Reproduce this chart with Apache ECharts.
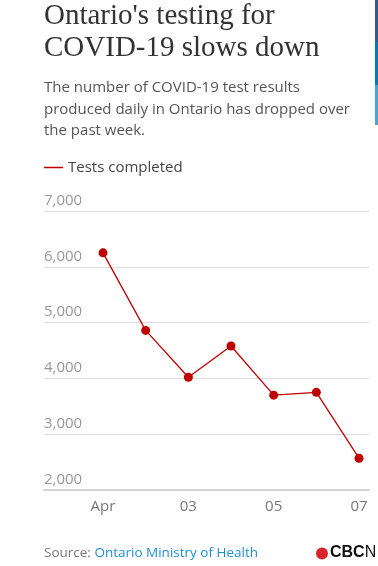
<!DOCTYPE html>
<html>
<head>
<meta charset="utf-8">
<script src="https://cdn.jsdelivr.net/npm/echarts@6/dist/echarts.min.js"></script>
<style>
  html, body { margin: 0; padding: 0; background: #fff; }
  #chart { width: 378px; height: 566px; }
</style>
</head>
<body>
<div id="chart"></div>
<script>
// data
const days = ['Apr', '02', '03', '04', '05', '06', '07'];
const tests = [6250, 4860, 4020, 4580, 3700, 3750, 2570];
const shownDays = [0, 2, 4, 6];
const yTicks = [2000, 3000, 4000, 5000, 6000, 7000];

const red = '#bf0000';
const chart = echarts.init(document.getElementById('chart'));

const option = {
    animation: false,
    title: [
        {
            text: "Ontario's testing for\nCOVID-19 slows down",
            left: 44,
            top: 0,
            padding: 0,
            textStyle: {
                fontFamily: 'Liberation Serif',
                fontWeight: 'normal',
                fontSize: 29,
                lineHeight: 32,
                color: '#333'
            }
        },
        {
            text: 'The number of COVID-19 test results\nproduced daily in Ontario has dropped over\nthe past week.',
            left: 44,
            top: 77,
            padding: 0,
            textStyle: {
                fontFamily: 'Open Sans',
                fontWeight: 'normal',
                fontSize: 15,
                lineHeight: 21.5,
                color: '#555'
            }
        }
    ],
    legend: {
        left: 44,
        top: 160,
        padding: 0,
        icon: 'rect',
        itemWidth: 19,
        itemHeight: 1.5,
        textStyle: { fontFamily: 'Open Sans', fontSize: 15, color: '#444' },
        data: ['Tests completed']
    },
    grid: { left: 44, right: 9, top: 211, bottom: 76 },
    xAxis: {
        type: 'value',
        min: -1.383,
        max: 6.234,
        splitLine: { show: false },
        axisTick: { show: false },
        axisLine: { show: true, lineStyle: { color: '#d4d4d4', width: 2 } },
        axisLabel: {
            customValues: shownDays,
            formatter: v => days[Math.round(v)],
            margin: 9,
            fontFamily: 'Open Sans',
            fontSize: 15,
            color: '#777'
        }
    },
    yAxis: {
        type: 'value',
        min: yTicks[0],
        max: yTicks[yTicks.length - 1],
        interval: 1000,
        axisLine: { show: false },
        axisTick: { show: false },
        splitLine: { lineStyle: { color: '#dcdcdc', width: 1 } },
        axisLabel: {
            inside: true,
            margin: 0,
            verticalAlign: 'bottom',
            padding: [0, 0, 3, 0],
            formatter: v => v.toLocaleString('en-US'),
            fontFamily: 'Open Sans',
            fontSize: 15,
            color: '#999'
        }
    },
    series: [{
        name: 'Tests completed',
        type: 'line',
        data: tests.map((v, i) => [i, v]),
        color: red,
        symbol: 'circle',
        symbolSize: 9,
        lineStyle: { width: 1.3, color: red },
        itemStyle: { color: red }
    }],
    graphic: [
        // blue strip at the right edge
        { type: 'rect', shape: { x: 375, y: 0, width: 3, height: 42 }, style: { fill: '#2e5a97' } },
        { type: 'rect', shape: { x: 375, y: 42, width: 3, height: 43 }, style: { fill: '#0a77bd' } },
        { type: 'rect', shape: { x: 375, y: 85, width: 3, height: 40 }, style: { fill: '#45a7d9' } },
        {
            type: 'text', left: 44, top: 546,
            style: {
                text: '{a|Source: }{b|Ontario Ministry of Health}',
                rich: {
                    a: { fontFamily: 'Open Sans', fontSize: 13.5, fill: '#777' },
                    b: { fontFamily: 'Open Sans', fontSize: 13.5, fill: '#1f8fcf' }
                }
            }
        },
        { type: 'circle', shape: { cx: 322, cy: 553.5, r: 6 }, style: { fill: '#d8232a' } },
        {
            type: 'text', left: 330, top: 545,
            style: {
                text: '{c|CBC}{n|N}',
                rich: {
                    c: { fontFamily: 'Liberation Sans', fontWeight: 'bold', fontSize: 16, fill: '#111' },
                    n: { fontFamily: 'Liberation Sans', fontSize: 16, fill: '#111' }
                }
            }
        }
    ]
};

chart.setOption(option);
</script>
</body>
</html>
